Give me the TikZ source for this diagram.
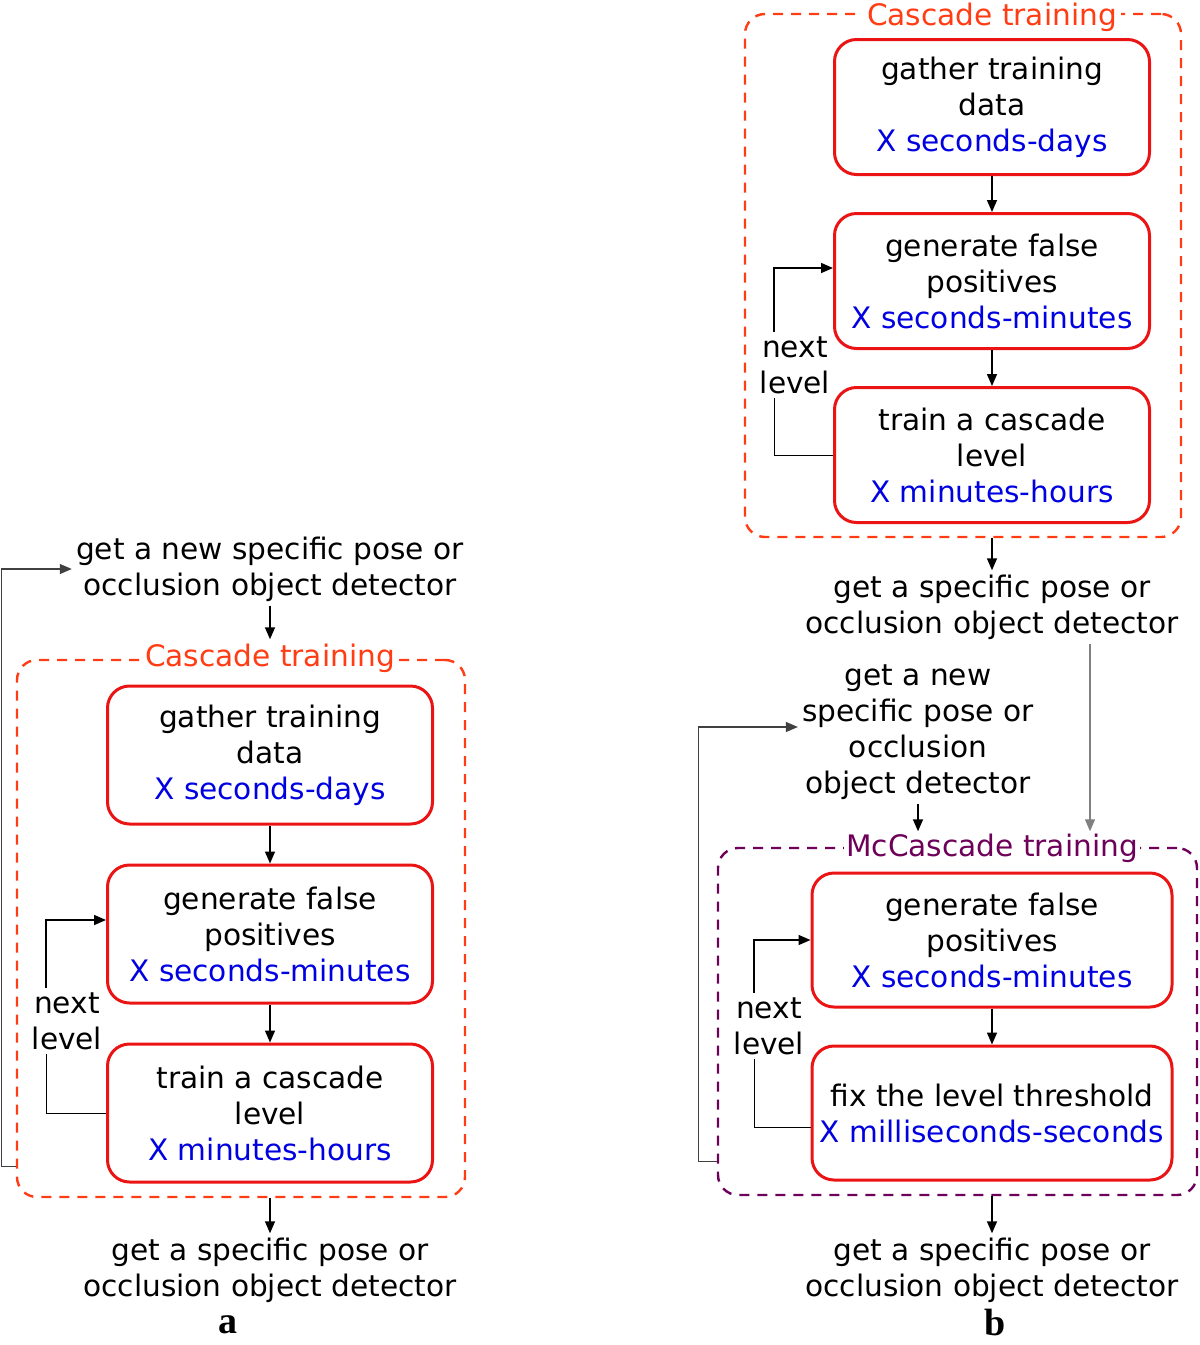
\documentclass[tikz,border=0pt]{standalone}
\usepackage{fontspec}
\setmainfont{DejaVu Sans}
\newfontfamily\figfont{Liberation Serif}
\usetikzlibrary{arrows.meta, calc}
\definecolor{boxred}{RGB}{235,20,20}
\definecolor{dashred}{RGB}{255,60,20}
\definecolor{timeblue}{RGB}{0,0,225}
\definecolor{mcpurple}{RGB}{110,0,90}
\newcommand{\tm}[1]{\textcolor{timeblue}{#1}}

\tikzset{
  stepnode/.style={draw=boxred, line width=1.5pt, rounded corners=11pt, fill=white, align=center,
    minimum width=162.5pt, minimum height=69pt, inner sep=2pt},
  plain/.style={align=center, inner sep=2pt},
  casc/.style={draw=dashred, dash pattern=on 5pt off 4pt, line width=1.2pt, rounded corners=10pt, inner sep=0pt},
  casctitle/.style={fill=white, text=dashred, inner sep=2pt},
  arr/.style={-{Triangle[length=6pt,width=5pt]}, line width=0.75pt},
  fbarr/.style={arr, line width=0.6pt, draw=black!75},
  figlabel/.style={inner sep=1pt, font=\figfont\bfseries\fontsize{19}{22}\selectfont},
}

\begin{document}
\begin{tikzpicture}[x=0.5pt, y=-0.5pt, font=\fontsize{14.8}{18}\selectfont]
    \useasboundingbox (0,0) rectangle (1200,1345);

    % panel a
    \node[plain] (ta) at (270,569) {get a new specific pose or\\occlusion object detector};
    \node[casc, minimum width=224pt, minimum height=268.5pt] (casca) at (241,928.5) {};
    \node[casctitle] (tia) at (270,658) {Cascade training};
    \node[stepnode] (a1) at (270,755) {gather training\\data\\\tm{X seconds-days}};
    \node[stepnode] (a2) at (270,934) {generate false\\positives\\\tm{X seconds-minutes}};
    \node[stepnode] (a3) at (270,1113) {train a cascade\\level\\\tm{X minutes-hours}};
    \node[plain] (nla) at (67,1021) {next\\level};
    \node[plain] (tba) at (270,1270) {get a specific pose or\\occlusion object detector};
    \node[figlabel] (la) at (228,1325) {a};

    \draw[arr] (ta.south) -- (tia.north);
    \draw[arr] (a1.south) -- (a2.north);
    \draw[arr] (a2.south) -- (a3.north);
    \draw (a3.west) -| ([xshift=-10.5pt]nla.south);
    \draw[arr] ([xshift=-10.5pt]nla.north) |- ([yshift=7pt]a2.west);
    \draw[fbarr] ([yshift=16pt]casca.south west) -- ++(-14,0) |- (ta.west);
    \draw[arr] (tba.north |- casca.south) -- (tba.north);

    % panel b
    \node[casc, minimum width=218pt, minimum height=261.5pt] (cascb) at (963,275.5) {};
    \node[casctitle] (tib) at (992,17) {Cascade training};
    \node[stepnode, minimum width=157.5pt, minimum height=67.5pt] (b1) at (992,107) {gather training\\data\\\tm{X seconds-days}};
    \node[stepnode, minimum width=157.5pt, minimum height=67.5pt] (b2) at (992,281) {generate false\\positives\\\tm{X seconds-minutes}};
    \node[stepnode, minimum width=157.5pt, minimum height=67.5pt] (b3) at (992,455) {train a cascade\\level\\\tm{X minutes-hours}};
    \node[plain] (nlb) at (795,365) {next\\level};
    \node[plain] (tb1) at (992,607) {get a specific pose or\\occlusion object detector};

    \draw[arr] (b1.south) -- (b2.north);
    \draw[arr] (b2.south) -- (b3.north);
    \draw (b3.west) -| ([xshift=-10.5pt]nlb.south);
    \draw[arr] ([xshift=-10.5pt]nlb.north) |- ([yshift=6.5pt]b2.west);
    \draw[arr] (tb1.north |- cascb.south) -- (tb1.north);

    \node[plain] (nb) at (918,732) {get a new\\specific pose or\\occlusion\\object detector};
    \node[casc, draw=mcpurple, minimum width=239.5pt, minimum height=173.5pt] (mcb) at (957.5,1021.5) {};
    \node[casctitle, text=mcpurple, inner sep=1pt] (tim) at (992,848) {McCascade training};
    \node[stepnode, minimum width=180pt, minimum height=67pt] (m1) at (992,940) {generate false\\positives\\\tm{X seconds-minutes}};
    \node[stepnode, minimum width=180pt, minimum height=67pt] (m2) at (992,1113) {fix the level threshold\\\tm{X milliseconds-seconds}};
    \node[plain] (nlm) at (769,1026) {next\\level};
    \node[plain] (tb2) at (992,1270) {get a specific pose or\\occlusion object detector};
    \node[figlabel] (lb) at (995,1322) {b};

    \draw[arr] (nb.south) -- (nb.south |- tim.north);
    \draw[fbarr, draw=black!50] ([xshift=49pt]tb1.south) -- ([xshift=49pt]tb1.south |- tim.north);
    \draw[arr] (m1.south) -- (m2.north);
    \draw ([yshift=-7pt]m2.west) -| ([xshift=-7.5pt]nlm.south);
    \draw[arr] ([xshift=-7.5pt]nlm.north) |- (m1.west);
    \draw[fbarr] ([yshift=17.5pt]mcb.south west) -- ++(-18,0) |- ([yshift=2.5pt]nb.west);
    \draw[arr] (tb2.north |- mcb.south) -- (tb2.north);
\end{tikzpicture}
\end{document}
